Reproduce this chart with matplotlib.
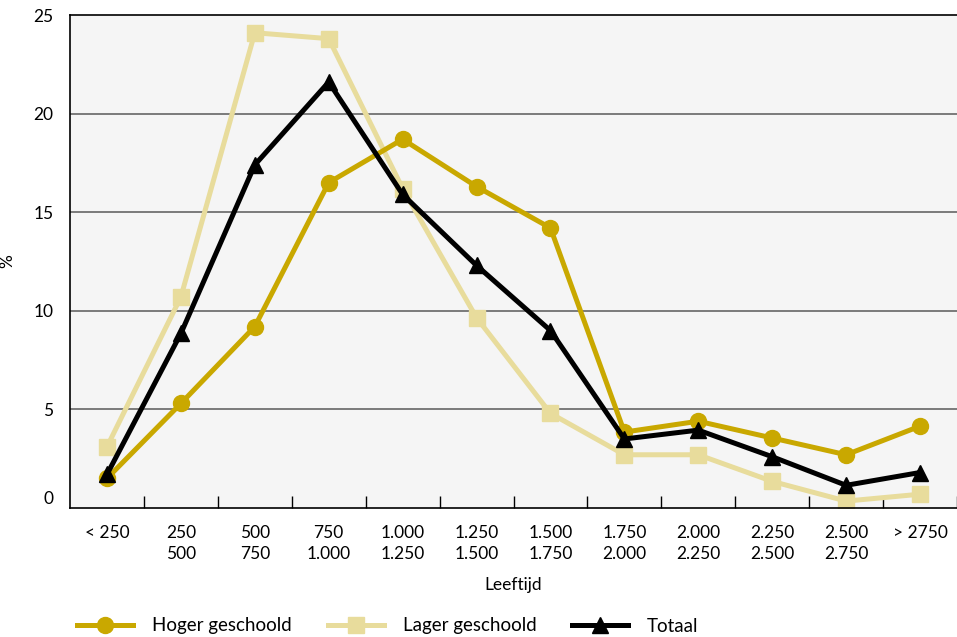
import matplotlib.pyplot as plt
import matplotlib.transforms as mtransforms

# data
categories = ['< 250', '250\n500', '500\n750', '750\n1.000', '1.000\n1.250', '1.250\n1.500',
              '1.500\n1.750', '1.750\n2.000', '2.000\n2.250', '2.250\n2.500', '2.500\n2.750', '> 2750']
hoger = [1.5, 5.3, 9.2, 16.5, 18.7, 16.3, 14.2, 3.85, 4.4, 3.55, 2.7, 4.15]
lager = [3.1, 10.7, 24.1, 23.8, 16.2, 9.65, 4.8, 2.7, 2.7, 1.35, 0.35, 0.7]
totaal = [1.7, 8.85, 17.4, 21.6, 15.9, 12.3, 9.0, 3.5, 3.95, 2.6, 1.15, 1.8]
yticks = [0, 5, 10, 15, 20, 25]

plt.rcParams['font.family'] = ['Lato', 'DejaVu Sans']
plt.rcParams['font.size'] = 12.5

fig = plt.figure(figsize=(9.57, 6.37), dpi=100)
ax = fig.add_axes([70 / 957, 1 - 508 / 637, 887 / 957, 493 / 637])
ax.set_facecolor('#f5f5f5')

x = range(len(categories))
ax.plot(x, hoger, color='#c9a800', lw=3.6, marker='o', ms=11.5, label='Hoger geschoold', zorder=3)
ax.plot(x, lager, color='#e8dc9c', lw=3.6, marker='s', ms=11.5, label='Lager geschoold', zorder=2)
ax.plot(x, totaal, color='black', lw=3.6, marker='^', ms=11, label='Totaal', zorder=4)

ax.set_xlim(-0.5, len(categories) - 0.5)
ax.set_ylim(0, 25)
ax.set_xticks(list(x))
ax.set_xticklabels(categories, linespacing=1.4)
ax.set_xticks([i + 0.5 for i in range(len(categories))], minor=True)
ax.tick_params(axis='x', which='major', length=0, pad=12)
ax.tick_params(axis='x', which='minor', direction='in', length=9, width=1, color='black')
ax.set_yticks(yticks)
ax.tick_params(axis='y', length=0, pad=12)

for v in yticks[1:-1]:
    ax.axhline(v, color='#666666', lw=1.2, zorder=1)

for s in ['left', 'bottom', 'top']:
    ax.spines[s].set_color('black')
    ax.spines[s].set_linewidth(1.2)
ax.spines['right'].set_visible(False)

# zero label sits a little above the axis
off = mtransforms.ScaledTranslation(0, 10 / 100, fig.dpi_scale_trans)
for lbl in ax.get_yticklabels():
    if lbl.get_text() == '0':
        lbl.set_transform(lbl.get_transform() + off)

ax.set_ylabel('%')
ax.yaxis.set_label_coords(-0.062, 0.5)
ax.set_xlabel('Leeftijd')
ax.xaxis.set_label_coords(0.5, -0.14)

fig.legend(loc='center left', bbox_to_anchor=(0.063, 1 - 626 / 637), ncol=3, frameon=False,
           handlelength=3.0, handletextpad=1.0, columnspacing=1.9, fontsize=13.5)

fig.savefig('out.png', dpi=100)
